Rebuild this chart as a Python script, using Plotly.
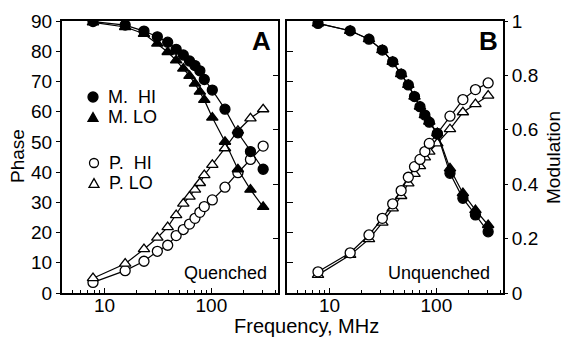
import math
import plotly.graph_objects as go

# ---------------- data ----------------
freq = [7.8, 15.6, 23.4, 31.2, 39.0, 46.8, 54.6, 62.4, 70.2, 78.0, 85.8, 102, 134, 177, 232, 305]

# Panel A (Quenched)
mod_hi_A = [0.998, 0.985, 0.963, 0.942, 0.922, 0.896, 0.875, 0.853, 0.836, 0.817, 0.785, 0.746, 0.676, 0.589, 0.520, 0.455]
mod_lo_A = [0.995, 0.978, 0.953, 0.917, 0.886, 0.855, 0.825, 0.798, 0.770, 0.740, 0.710, 0.645, 0.556, 0.455, 0.380, 0.317]
ph_hi_A = [3.5, 7.4, 10.5, 13.8, 15.8, 19.0, 21.0, 22.8, 24.7, 26.7, 28.6, 30.8, 35.0, 39.8, 44.2, 48.6]
ph_lo_A = [4.9, 9.7, 14.5, 18.3, 21.8, 25.8, 29.6, 31.9, 34.2, 36.4, 39.0, 42.4, 47.9, 53.7, 57.8, 60.8]

# Panel B (Unquenched)
mod_hi_B = [0.991, 0.964, 0.933, 0.893, 0.850, 0.805, 0.765, 0.722, 0.685, 0.654, 0.628, 0.585, 0.440, 0.348, 0.287, 0.225]
mod_lo_B = [0.991, 0.964, 0.933, 0.893, 0.850, 0.805, 0.765, 0.722, 0.685, 0.654, 0.630, 0.588, 0.458, 0.367, 0.305, 0.250]
ph_hi_B = [7.0, 13.3, 19.2, 24.7, 29.5, 33.9, 38.3, 41.8, 44.2, 46.8, 49.5, 52.8, 58.5, 64.0, 67.3, 69.5]
ph_lo_B = [6.0, 12.6, 17.8, 23.3, 28.0, 32.1, 36.3, 39.4, 42.0, 44.9, 46.8, 49.5, 54.2, 59.8, 62.5, 65.3]

x_ticks = [10, 100]
x_minor = [4, 5, 6, 7, 8, 9, 20, 30, 40, 50, 60, 70, 80, 90, 200, 300, 400]
phase_ticks = [0, 10, 20, 30, 40, 50, 60, 70, 80, 90]
mod_ticks = [0, 0.2, 0.4, 0.6, 0.8, 1]
mod_labels = ["0", "0.2", "0.4", "0.6", "0.8", "1"]

# ---------------- layout helpers ----------------
W, H = 567, 340
FONT = "Liberation Sans"


def px(x):
    return x / W


def py(y):
    return (H - y) / H


domA = [px(62), px(278)]
domB = [px(287), px(503)]
domY = [py(293), py(21)]

LW = 1.2
fig = go.Figure()


def add(x, y, xa, ya, symbol, filled, size):
    fig.add_trace(go.Scatter(
        x=x, y=y, xaxis=xa, yaxis=ya, mode="lines+markers",
        line=dict(color="black", width=LW),
        marker=dict(symbol=symbol, size=size,
                    color="black" if filled else "white",
                    line=dict(color="black", width=1.3)),
        showlegend=False, hoverinfo="skip"))


# Panel A: modulation on y2, phase on y
add(freq, mod_lo_A, "x", "y2", "triangle-up", True, 10)
add(freq, mod_hi_A, "x", "y2", "circle", True, 10)
add(freq, ph_hi_A, "x", "y", "circle", False, 10)
add(freq, ph_lo_A, "x", "y", "triangle-up", False, 10)
# Panel B: modulation on y4, phase on y3
add(freq, mod_lo_B, "x2", "y4", "triangle-up", True, 10)
add(freq, mod_hi_B, "x2", "y4", "circle", True, 10)
add(freq, ph_lo_B, "x2", "y3", "triangle-up", False, 10)
add(freq, ph_hi_B, "x2", "y3", "circle", False, 10)

xr = [math.log10(4), math.log10(420)]
xcommon = dict(type="log", range=xr, showline=True, linewidth=2, linecolor="black",
               mirror=True, ticks="inside", ticklen=5, tickwidth=1.3, tickcolor="black",
               tickvals=x_ticks, ticktext=[str(v) for v in x_ticks],
               tickfont=dict(size=19, family=FONT, color="black"),
               ticklabelstandoff=-6,
               minor=dict(tickvals=x_minor, ticks="inside", ticklen=3, tickwidth=1,
                          tickcolor="black", showgrid=False),
               showgrid=False, zeroline=False, fixedrange=True, automargin=False)

fig.update_layout(
    width=W, height=H, margin=dict(l=0, r=0, t=0, b=0, autoexpand=False),
    paper_bgcolor="white", plot_bgcolor="white",
    font=dict(family=FONT, color="black"),
    xaxis=dict(domain=domA, anchor="y", **xcommon),
    xaxis2=dict(domain=domB, anchor="y3", **xcommon),
    yaxis=dict(domain=domY, anchor="x", range=[0, 90], tickvals=phase_ticks,
               ticks="outside", ticklen=4, tickwidth=1.3, tickcolor="black",
               showline=True, linewidth=2, linecolor="black", mirror=True,
               tickfont=dict(size=19, family=FONT, color="black"),
               showgrid=False, zeroline=False, automargin=False),
    yaxis2=dict(overlaying="y", anchor="x", side="right", range=[0, 1],
                tickvals=mod_ticks, ticks="inside", ticklen=5, tickwidth=1.3,
                tickcolor="black", showticklabels=False, showline=False,
                showgrid=False, zeroline=False, automargin=False),
    yaxis3=dict(domain=domY, anchor="x2", range=[0, 90], tickvals=phase_ticks,
                ticks="inside", ticklen=6, tickwidth=1.3, tickcolor="black",
                showticklabels=False, showline=True, linewidth=2, linecolor="black",
                mirror=True, showgrid=False, zeroline=False, automargin=False),
    yaxis4=dict(overlaying="y3", anchor="x2", side="right", range=[0, 1],
                tickvals=mod_ticks, ticktext=mod_labels, ticks="outside", ticklen=4,
                tickwidth=1.3, tickcolor="black",
                tickfont=dict(size=19, family=FONT, color="black"),
                showline=False, showgrid=False, zeroline=False, automargin=False),
)


def ann(text, x, y, size, xanchor="center", angle=0):
    fig.add_annotation(text=text, x=px(x), y=py(y), xref="paper", yref="paper",
                       xanchor=xanchor, yanchor="middle", showarrow=False,
                       textangle=angle,
                       font=dict(size=size, family=FONT, color="black"))


ann("Phase", 17, 156, 19, angle=-90)
ann("Modulation", 553, 158, 19, angle=-90)
ann("Frequency, MHz", 306, 326, 20)
ann("<b>A</b>", 261, 41, 26)
ann("<b>B</b>", 488, 41, 26)
ann("Quenched", 269, 273, 18, xanchor="right")
ann("Unquenched", 492, 273, 18, xanchor="right")

# legend (panel A)
ann("M.\u00a0 HI", 106, 97, 18, xanchor="left")
ann("M. LO", 106, 117, 18, xanchor="left")
ann("P.\u00a0 HI", 107, 163, 18, xanchor="left")
ann("P. LO", 107, 183, 18, xanchor="left")


def circ(cx, cy, r, filled):
    fig.add_shape(type="circle", xref="paper", yref="paper",
                  x0=px(cx - r), x1=px(cx + r), y0=py(cy + r), y1=py(cy - r),
                  fillcolor="black" if filled else "white",
                  line=dict(color="black", width=1.3))


def tri(cx, cy, s, filled):
    h = s * 0.87
    path = "M {} {} L {} {} L {} {} Z".format(
        px(cx - s / 2), py(cy + h / 2), px(cx + s / 2), py(cy + h / 2), px(cx), py(cy - h / 2))
    fig.add_shape(type="path", xref="paper", yref="paper", path=path,
                  fillcolor="black" if filled else "white",
                  line=dict(color="black", width=1.3))


circ(93, 97, 5, True)
tri(93, 117, 10, True)
circ(94, 163, 4.5, False)
tri(94, 183, 10, False)

fig.write_html("out.html")
